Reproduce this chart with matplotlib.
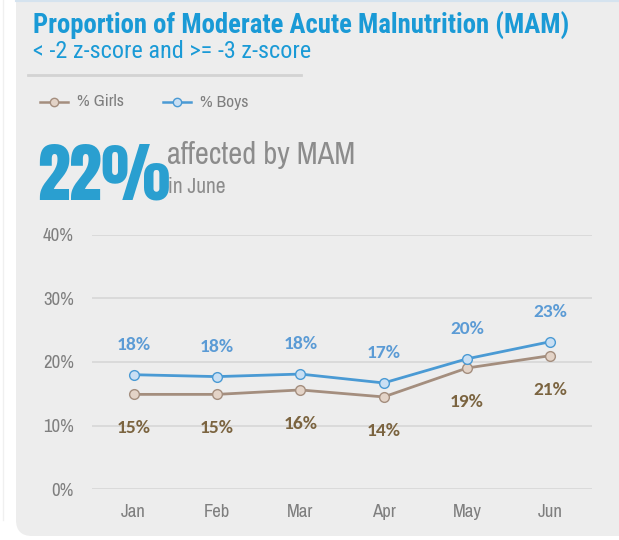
import matplotlib
matplotlib.use('Agg')
import matplotlib.pyplot as plt
from matplotlib.patches import FancyBboxPatch

months = ['Jan', 'Feb', 'Mar', 'Apr', 'May', 'Jun']
boys = [18.0, 17.7, 18.1, 16.7, 20.5, 23.2]
girls = [14.9, 14.9, 15.6, 14.5, 19.05, 21.0]
yticks = [0, 10, 20, 30, 40]

NARROW = ['Archivo Narrow', 'Roboto Condensed', 'DejaVu Sans']
NARROW_B = ['Roboto Condensed', 'DejaVu Sans']
BIG = ['Anton', 'Oswald', 'DejaVu Sans']
LABEL = ['Carlito', 'Open Sans', 'DejaVu Sans']
W, H = 619, 540

fig = plt.figure(figsize=(W / 100, H / 100), dpi=100)
fig.patch.set_facecolor('white')

# background layer in pixel coordinates (y down)
bg = fig.add_axes([0, 0, 1, 1], zorder=-10)
bg.set_xlim(0, W)
bg.set_ylim(H, 0)
bg.axis('off')
bg.add_patch(FancyBboxPatch((16, -40), W + 40, 576, boxstyle='round,pad=0,rounding_size=16',
                            facecolor='#EDEDED', edgecolor='none'))
bg.plot([16, W], [1, 1], color='#D5E3EF', lw=1.5)
bg.plot([3, 3], [0, 520], color='#F0F0F0', lw=1)
bg.plot([28, 301], [75, 75], color='#D3D3D3', lw=2)

bg.text(33, 26, 'Proportion of Moderate Acute Malnutrition (MAM)', family=NARROW_B,
        fontsize=19.3, fontweight='bold', color='#1A9AD6', va='center', ha='left')
bg.text(33, 51, '< -2 z-score and >= -3 z-score', family=NARROW_B,
        fontsize=17.5, color='#1A9AD6', va='center', ha='left')

# legend
for x0, label, lc, fc in [(40, '% Girls', '#A48E7E', '#E3D3C7'), (163, '% Boys', '#4A9AD4', '#C9DFF3')]:
    bg.plot([x0, x0 + 28], [102, 102], color=lc, lw=1.8)
    bg.plot([x0 + 14], [102], marker='o', ms=6, mfc=fc, mec=lc, mew=1)
    bg.text(x0 + 37, 102, label, family=NARROW, fontsize=12.5, color='#7F7F7F',
            va='center', ha='left')

# headline number
bg.text(37, 200, '22%', family=BIG, fontsize=47,
        color='#2A9FD0', va='baseline', ha='left')
bg.text(167, 164, 'affected by MAM', family=NARROW, fontsize=22, color='#8C8C8C',
        va='baseline', ha='left')
bg.text(168, 193, 'in June', family=NARROW, fontsize=15.5, color='#8C8C8C',
        va='baseline', ha='left')

ax = fig.add_axes([92 / W, 1 - 489 / H, (592 - 92) / W, (489 - 235) / H])
ax.set_facecolor('none')
x = list(range(len(months)))
ax.plot(x, girls, color='#A48E7E', lw=2, marker='o', ms=7, mfc='#E3D3C7', mec='#A48E7E',
        mew=1, clip_on=False, zorder=3)
ax.plot(x, boys, color='#4A9AD4', lw=2, marker='o', ms=7, mfc='#C9DFF3', mec='#4A9AD4',
        mew=1, clip_on=False, zorder=3)

for i, v in enumerate(boys):
    ax.annotate(f'{v:.0f}%', (i, v), xytext=(0, 21.6), textcoords='offset points', ha='center',
                va='center', fontsize=14, fontweight='bold', color='#5B9BD5', family=LABEL)
for i, v in enumerate(girls):
    ax.annotate(f'{v:.0f}%', (i, v), xytext=(0, -24.5), textcoords='offset points', ha='center',
                va='center', fontsize=14, fontweight='bold', color='#7B6440', family=LABEL)

ax.set_xlim(-0.5, 5.5)
ax.set_ylim(0, 40)
ax.set_yticks(yticks)
ax.set_yticklabels([f'{t}%' for t in yticks], family=NARROW, fontsize=13.5, color='#7F7F7F')
ax.set_xticks(x)
ax.set_xticklabels(months, family=NARROW, fontsize=13.5, color='#7F7F7F')
ax.tick_params(axis='y', length=0, pad=13)
ax.tick_params(axis='x', length=0, pad=11)
ax.grid(axis='y', color='#D9D9D9', lw=1.3)
ax.set_axisbelow(True)
for s in ax.spines.values():
    s.set_visible(False)

plt.savefig('out.png', dpi=100, facecolor='white')
